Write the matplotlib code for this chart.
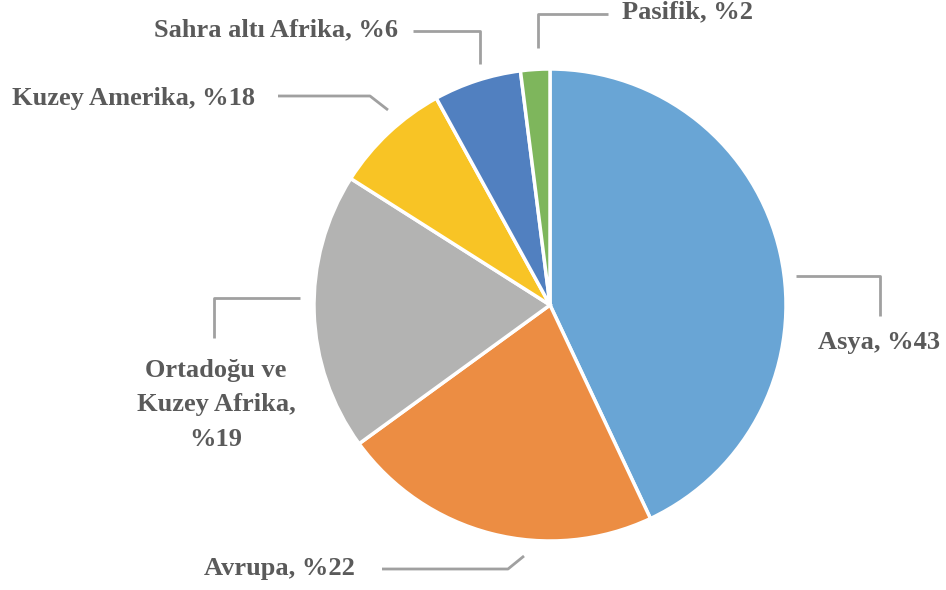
import matplotlib
matplotlib.use("Agg")
import matplotlib.pyplot as plt

# slice values (share of the pie) and the labels printed on the chart
regions = ["Asya", "Avrupa", "Ortadoğu ve\nKuzey Afrika,", "Kuzey Amerika", "Sahra altı Afrika", "Pasifik"]
values = [43, 22, 19, 8, 6, 2]
label_pct = ["%43", "%22", "%19", "%18", "%6", "%2"]
colors = ["#69A5D5", "#EC8D43", "#B3B3B2", "#F8C425", "#5180C0", "#7EB65C"]

W, H = 946, 590
fig = plt.figure(figsize=(W / 100, H / 100), dpi=100)
ax = fig.add_axes([0, 0, 1, 1])

ax.pie(values, colors=colors, startangle=90, counterclock=False,
       center=(550, H - 305), radius=236, frame=True,
       wedgeprops=dict(edgecolor="white", linewidth=2.5))
ax.set_xlim(0, W)
ax.set_ylim(0, H)
ax.set_aspect("equal")
ax.axis("off")

txt_col = "#5A5A5A"
line_col = "#A0A0A0"
font = dict(family=["Liberation Serif", "DejaVu Serif"], weight="bold", size=19, color=txt_col)

# leader lines (pixel coords, y from top) and label anchors
layout = {
    "Pasifik": ([(538, 48), (538, 14), (608, 14)], (622, 12, "left")),
    "Sahra altı Afrika": ([(413, 31), (480, 31), (480, 64)], (398, 30, "right")),
    "Kuzey Amerika": ([(278, 96), (370, 96), (388, 110)], (255, 98, "right")),
    "Ortadoğu ve\nKuzey Afrika,": ([(300, 298), (214, 298), (214, 338)], (216, 405, "center")),
    "Asya": ([(796, 276), (880, 276), (880, 316)], (940, 342, "right")),
    "Avrupa": ([(382, 569), (508, 569), (524, 556)], (355, 568, "right")),
}

for name, pct in zip(regions, label_pct):
    pts, (tx, ty, ha) = layout[name]
    xs = [p[0] for p in pts]
    ys = [H - p[1] for p in pts]
    ax.plot(xs, ys, color=line_col, lw=2, solid_capstyle="butt")
    if "\n" in name:
        text = name + "\n" + pct
        ax.text(tx, H - ty, text, ha=ha, va="center", multialignment="center",
                linespacing=1.65, **font)
    else:
        ax.text(tx, H - ty, name + ", " + pct, ha=ha, va="center", **font)

fig.savefig("out.png", dpi=100, facecolor="white")
